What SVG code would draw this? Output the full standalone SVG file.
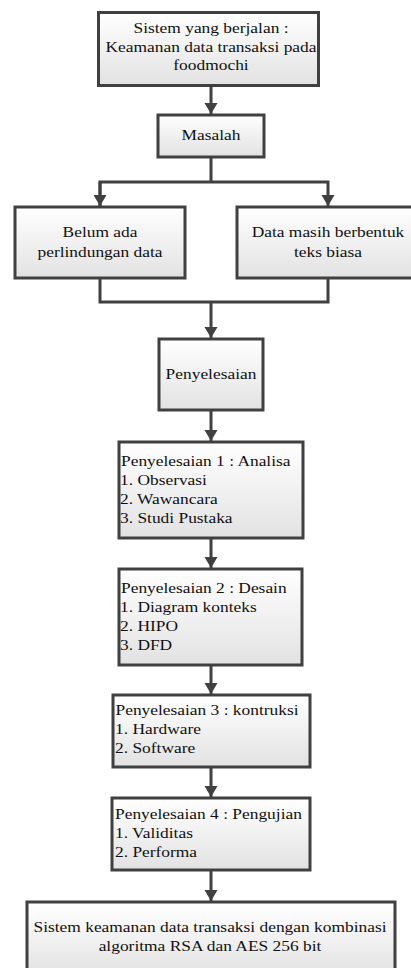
<svg xmlns="http://www.w3.org/2000/svg" width="411" height="968" viewBox="0 0 411 968">
<style>
.box{fill:url(#g);stroke:#404040;stroke-width:3}
.t{font-family:"Liberation Serif",serif;font-size:15px;fill:#111}
.c{text-anchor:middle}
.ln{fill:none;stroke:#404040;stroke-width:3}
</style>
<defs>
<linearGradient id="g" x1="0" y1="0" x2="0" y2="1">
<stop offset="0" stop-color="#ffffff"/>
<stop offset="1" stop-color="#e2e2e2"/>
</linearGradient>
<marker id="a" markerUnits="userSpaceOnUse" markerWidth="12" markerHeight="14" refX="11" refY="7" orient="auto">
<path d="M0,0.5 L11,7 L0,13.5 z" fill="#404040"/>
</marker>
</defs>
<g id="connectors">
<line class="ln" x1="211" y1="86" x2="211" y2="114" marker-end="url(#a)"/>
<polyline class="ln" points="211,157 211,182"/>
<polyline class="ln" points="100,206 100,182 328,182 328,206" marker-end="url(#a)"/>
<line class="ln" x1="100" y1="182" x2="100" y2="206" marker-end="url(#a)"/>
<polyline class="ln" points="100,278 100,302 328,302 328,278"/>
<line class="ln" x1="211" y1="302" x2="211" y2="338" marker-end="url(#a)"/>
<line class="ln" x1="211" y1="410" x2="211" y2="441" marker-end="url(#a)"/>
<line class="ln" x1="211" y1="538" x2="211" y2="568" marker-end="url(#a)"/>
<line class="ln" x1="211" y1="665" x2="211" y2="694" marker-end="url(#a)"/>
<line class="ln" x1="211" y1="767" x2="211" y2="797" marker-end="url(#a)"/>
<line class="ln" x1="211" y1="870" x2="211" y2="901" marker-end="url(#a)"/>
</g>
<g font-family="Liberation Serif, serif">
<g id="n1">
<rect class="box" x="98.5" y="12.5" width="220" height="73"/>
<text class="t c" transform="translate(211,33) scale(1.16,1)">Sistem yang berjalan :</text>
<text class="t c" transform="translate(211,52) scale(1.16,1)">Keamanan data transaksi pada</text>
<text class="t c" transform="translate(211,70) scale(1.16,1)">foodmochi</text>
</g>
<g id="n2">
<rect class="box" x="158" y="115" width="106" height="42"/>
<text class="t c" transform="translate(211,140) scale(1.16,1)">Masalah</text>
</g>
<g id="n3">
<rect class="box" x="15" y="207" width="170" height="71"/>
<text class="t c" transform="translate(100,237) scale(1.16,1)">Belum ada</text>
<text class="t c" transform="translate(100,257) scale(1.16,1)">perlindungan data</text>
</g>
<g id="n4">
<rect class="box" x="237" y="207" width="182" height="71"/>
<text class="t c" transform="translate(328,237) scale(1.16,1)">Data masih berbentuk</text>
<text class="t c" transform="translate(328,257) scale(1.16,1)">teks biasa</text>
</g>
<g id="n5">
<rect class="box" x="159" y="339" width="104" height="71"/>
<text class="t c" transform="translate(211,379) scale(1.16,1)">Penyelesaian</text>
</g>
<g id="n6">
<rect class="box" x="119" y="442" width="184" height="96"/>
<text class="t" transform="translate(121,466) scale(1.16,1)">Penyelesaian 1 : Analisa</text>
<text class="t" transform="translate(120,485) scale(1.16,1)">1. Observasi</text>
<text class="t" transform="translate(120,504) scale(1.16,1)">2. Wawancara</text>
<text class="t" transform="translate(120,523) scale(1.16,1)">3. Studi Pustaka</text>
</g>
<g id="n7">
<rect class="box" x="119" y="569" width="183" height="96"/>
<text class="t" transform="translate(121,593) scale(1.16,1)">Penyelesaian 2 : Desain</text>
<text class="t" transform="translate(120,612) scale(1.16,1)">1. Diagram konteks</text>
<text class="t" transform="translate(120,631) scale(1.16,1)">2. HIPO</text>
<text class="t" transform="translate(120,650) scale(1.16,1)">3. DFD</text>
</g>
<g id="n8">
<rect class="box" x="113" y="695" width="197" height="72"/>
<text class="t" transform="translate(115.5,715) scale(1.16,1)">Penyelesaian 3 : kontruksi</text>
<text class="t" transform="translate(115,734) scale(1.16,1)">1. Hardware</text>
<text class="t" transform="translate(115,753) scale(1.16,1)">2. Software</text>
</g>
<g id="n9">
<rect class="box" x="112" y="798" width="198" height="72"/>
<text class="t" transform="translate(115,819) scale(1.16,1)">Penyelesaian 4 : Pengujian</text>
<text class="t" transform="translate(115,838) scale(1.16,1)">1. Validitas</text>
<text class="t" transform="translate(115,857) scale(1.16,1)">2. Performa</text>
</g>
<g id="n10">
<rect class="box" x="27" y="902" width="368" height="76"/>
<text class="t c" transform="translate(210,932) scale(1.16,1)">Sistem keamanan data transaksi dengan kombinasi</text>
<text class="t c" transform="translate(210,951) scale(1.16,1)">algoritma RSA dan AES 256 bit</text>
</g>
</g>
</svg>
